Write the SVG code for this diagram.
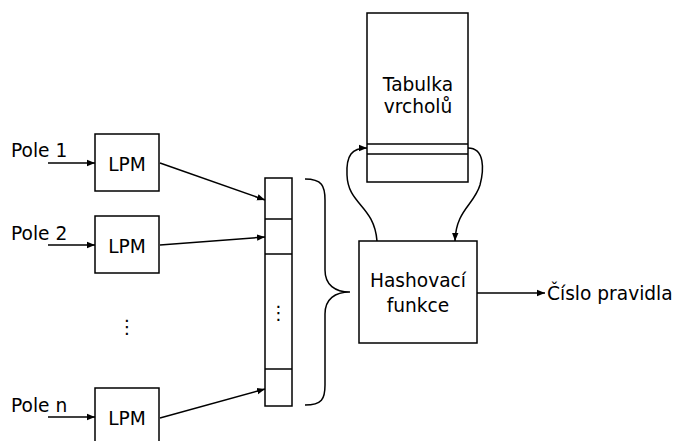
<svg xmlns="http://www.w3.org/2000/svg" width="675" height="441" viewBox="0 0 675 441">
<defs>
<marker id="ah" viewBox="0 0 10 10" refX="10" refY="5" markerWidth="8" markerHeight="8" markerUnits="userSpaceOnUse" orient="auto">
<path d="M0,1 L10,5 L0,9 Z" fill="#000"/>
</marker>
<style>
.box{fill:#fff;stroke:#000;stroke-width:1.5}
.ln{fill:none;stroke:#000;stroke-width:1.5}
.ar{fill:none;stroke:#000;stroke-width:1.5;marker-end:url(#ah)}
text{font-family:"DejaVu Sans",sans-serif;font-size:18.6px;fill:#000}
.c{text-anchor:middle}
</style>
</defs>
<rect width="675" height="441" fill="#fff"/>
<g id="pole1"><text x="11" y="157">Pole 1</text></g>
<g id="pole2"><text x="11" y="240">Pole 2</text></g>
<g id="polen"><text x="11" y="412">Pole n</text></g>
<g id="lpm1"><rect class="box" x="95" y="134" width="64" height="57"/><text class="c" x="127" y="171">LPM</text></g>
<g id="lpm2"><rect class="box" x="95" y="216" width="64" height="57"/><text class="c" x="127" y="253">LPM</text></g>
<g id="lpmn"><rect class="box" x="95" y="388" width="64" height="60"/><text class="c" x="127" y="425">LPM</text></g>
<g id="dots-left"><text class="c" x="127" y="333">⋮</text></g>
<g id="vector">
<rect class="box" x="265" y="178" width="27" height="228"/>
<line class="ln" x1="265" y1="219" x2="292" y2="219"/>
<line class="ln" x1="265" y1="254" x2="292" y2="254"/>
<line class="ln" x1="265" y1="369" x2="292" y2="369"/>
<text class="c" x="278.5" y="319">⋮</text>
</g>
<g id="table">
<rect class="box" x="367" y="13" width="101" height="169"/>
<line class="ln" x1="367" y1="144" x2="468" y2="144"/>
<line class="ln" x1="367" y1="154" x2="468" y2="154"/>
<text class="c" x="418" y="91">Tabulka</text>
<text class="c" x="418" y="113">vrcholů</text>
</g>
<g id="hash">
<rect class="box" x="359" y="241" width="118" height="102"/>
<text class="c" x="418" y="287">Hashovací</text>
<text class="c" x="418" y="312">funkce</text>
</g>
<g id="out"><text x="547" y="300">Číslo pravidla</text></g>
<g id="connectors">
<line class="ar" x1="48" y1="163" x2="95" y2="163"/>
<line class="ar" x1="48" y1="245" x2="95" y2="245"/>
<line class="ar" x1="48" y1="417" x2="95" y2="417"/>
<line class="ar" x1="160" y1="163" x2="265" y2="200"/>
<line class="ar" x1="160" y1="245" x2="265" y2="237"/>
<line class="ar" x1="160" y1="418" x2="265" y2="389"/>
<path class="ln" d="M305,179 C322,179 325,186 325,200 L325,270 C325,285 335,292 350,292 C335,292 325,299 325,314 L325,385 C325,399 322,405 305,405"/>
<line class="ar" x1="477" y1="293" x2="545" y2="293"/>
<path class="ar" d="M377,241 C374,205 348,205 347,175 C346,155 352,148 367,148"/>
<path class="ar" d="M468,148 C485,148 484,170 480,185 C474,205 456,210 455,241"/>
</g>
</svg>
